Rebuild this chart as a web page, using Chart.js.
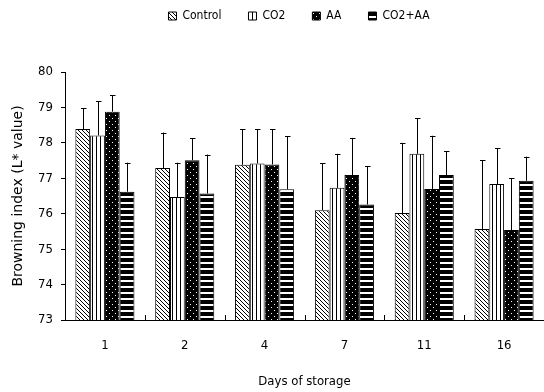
<!DOCTYPE html>
<html>
<head>
<meta charset="utf-8">
<script src="https://cdn.jsdelivr.net/npm/chart.js@4/dist/chart.umd.min.js"></script>
<style>
  html, body { margin: 0; padding: 0; background: #fff; }
  #wrap { width: 544px; height: 392px; }
</style>
</head>
<body>
<div id="wrap"><canvas id="grafico"></canvas></div>
<script>
// dados
const dias = ['1', '2', '4', '7', '11', '16'];
const controle = [78.39, 77.29, 77.38, 76.10, 76.02, 75.57];
const co2 = [78.21, 76.47, 77.42, 76.73, 77.69, 76.84];
const aa = [78.88, 77.51, 77.39, 77.09, 76.70, 75.54];
const co2aa = [76.62, 76.57, 76.69, 76.26, 77.09, 76.93];
// desvio (só a parte de cima aparece)
const errControle = [0.58, 1.00, 1.00, 1.32, 1.98, 1.94];
const errCo2 = [0.96, 0.97, 0.97, 0.96, 1.00, 1.01];
const errAa = [0.47, 0.62, 1.00, 1.05, 1.50, 1.46];
const errCo2aa = [0.82, 1.10, 1.49, 1.08, 0.68, 0.68];
const yMin = 73;
const yMax = 80;

const fonteEstreita = "'Liberation Sans Narrow', 'DejaVu Sans Condensed', 'Liberation Sans', sans-serif";

// texturas das barras
function criarPadrao(w, h, desenhar) {
    const c = document.createElement('canvas');
    c.width = w; c.height = h;
    const g = c.getContext('2d');
    desenhar(g);
    return g.createPattern(c, 'repeat');
}

const ctx = document.getElementById('grafico').getContext('2d');

const padraoDiagonal = criarPadrao(4, 4, g => {
    g.fillStyle = '#fff'; g.fillRect(0, 0, 4, 4);
    g.fillStyle = '#000';
    for (let i = 0; i < 4; i++) g.fillRect(i, i, 1, 1);
});
const padraoVertical = criarPadrao(4, 1, g => {
    g.fillStyle = '#fff'; g.fillRect(0, 0, 4, 1);
    g.fillStyle = '#000'; g.fillRect(0, 0, 1, 1);
});
const padraoPontos = criarPadrao(6, 6, g => {
    g.fillStyle = '#000'; g.fillRect(0, 0, 6, 6);
    g.fillStyle = '#fff'; g.fillRect(1, 1, 1, 1); g.fillRect(4, 4, 1, 1);
});
const padraoHorizontal = criarPadrao(1, 6, g => {
    g.fillStyle = '#fff'; g.fillRect(0, 0, 1, 6);
    g.fillStyle = '#000'; g.fillRect(0, 0, 1, 4);
});

const erros = [errControle, errCo2, errAa, errCo2aa];

// barras de erro só para cima, com traço no topo
const pluginErro = {
    id: 'barrasErro',
    afterDatasetsDraw(chart) {
        const c = chart.ctx;
        const y = chart.scales.y;
        c.save();
        c.strokeStyle = '#000';
        c.lineWidth = 1;
        chart.data.datasets.forEach((ds, i) => {
            const meta = chart.getDatasetMeta(i);
            meta.data.forEach((barra, j) => {
                const topo = y.getPixelForValue(ds.data[j] + erros[i][j]);
                const x = Math.round(barra.x) + 0.5;
                c.beginPath();
                c.moveTo(x, barra.y);
                c.lineTo(x, topo);
                c.moveTo(x - 2.5, Math.round(topo) + 0.5);
                c.lineTo(x + 3, Math.round(topo) + 0.5);
                c.stroke();
            });
        });
        c.restore();
    }
};

// tracinhos para dentro no eixo x, entre os grupos
const pluginTracos = {
    id: 'tracosX',
    afterDraw(chart) {
        const c = chart.ctx;
        const x = chart.scales.x;
        const base = chart.chartArea.bottom;
        c.save();
        c.strokeStyle = '#000';
        c.lineWidth = 1;
        for (let i = 0; i < dias.length - 1; i++) {
            const px = Math.round((x.getPixelForValue(i) + x.getPixelForValue(i + 1)) / 2) + 0.5;
            c.beginPath();
            c.moveTo(px, base);
            c.lineTo(px, base - 5);
            c.stroke();
        }
        c.restore();
    }
};

// legenda: espaço embaixo e deslocamento
const pluginLegenda = {
    id: 'ajusteLegenda',
    afterInit(chart) {
        const lg = chart.legend;
        const fitOriginal = lg.fit.bind(lg);
        lg.fit = function () {
            fitOriginal();
            this.height += 23;
        };
    },
    afterLayout(chart) {
        const lg = chart.legend;
        lg.left += 27;
        lg.right += 27;
        lg.top -= 17;
        lg.bottom -= 17;
    }
};

new Chart(ctx, {
    type: 'bar',
    data: {
        labels: dias,
        datasets: [
            { label: 'Control', data: controle, backgroundColor: padraoDiagonal },
            { label: 'CO2', data: co2, backgroundColor: padraoVertical },
            { label: 'AA', data: aa, backgroundColor: padraoPontos },
            { label: 'CO2+AA', data: co2aa, backgroundColor: padraoHorizontal }
        ]
    },
    options: {
        responsive: true,
        maintainAspectRatio: false,
        animation: false,
        layout: { padding: { top: 0, right: 0, left: 0, bottom: 0 } },
        datasets: {
            bar: {
                borderColor: '#000',
                borderWidth: 1,
                barPercentage: 1,
                categoryPercentage: 0.74
            }
        },
        scales: {
            x: {
                grid: { display: false },
                border: { display: true, color: '#000', width: 1 },
                ticks: { color: '#000', padding: 10, font: { family: fonteEstreita, size: 13 } },
                title: {
                    display: true,
                    text: 'Days of storage',
                    color: '#000',
                    padding: { top: 0, bottom: 3 },
                    font: { family: fonteEstreita, size: 13 }
                },
                afterFit(scale) { scale.height = 72; }
            },
            y: {
                min: yMin,
                max: yMax,
                grid: { display: true, drawOnChartArea: false, color: '#000', tickLength: 4 },
                border: { display: true, color: '#000', width: 1 },
                ticks: { stepSize: 1, color: '#000', padding: 8, font: { family: fonteEstreita, size: 13 } },
                title: {
                    display: true,
                    text: 'Browning index (L* value)',
                    color: '#000',
                    padding: { top: 10, bottom: 0 },
                    font: { family: "'DejaVu Sans', sans-serif", size: 14 }
                },
                afterFit(scale) { scale.width = 65; }
            }
        },
        plugins: {
            legend: {
                position: 'top',
                labels: {
                    boxWidth: 8,
                    boxHeight: 8,
                    padding: 27,
                    color: '#000',
                    font: { family: fonteEstreita, size: 12 }
                }
            },
            tooltip: { enabled: false }
        }
    },
    plugins: [pluginErro, pluginTracos, pluginLegenda]
});
</script>
</body>
</html>
